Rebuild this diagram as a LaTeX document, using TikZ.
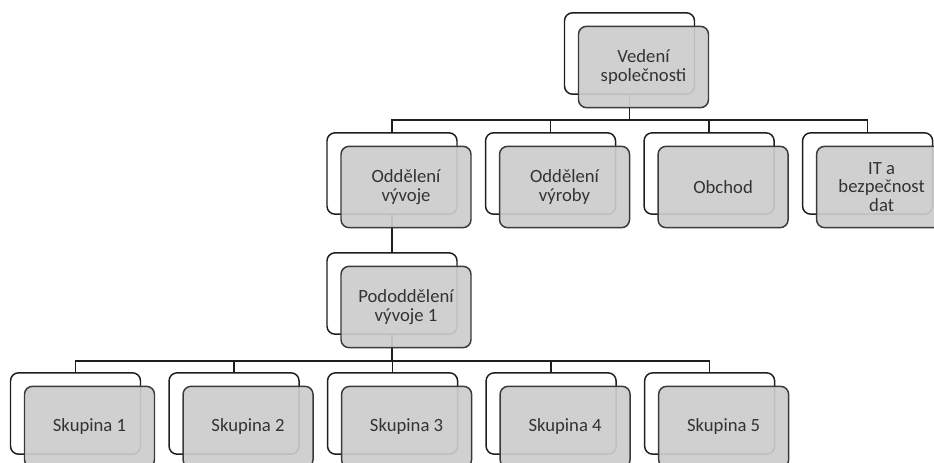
\documentclass[tikz,border=0pt]{standalone}
\usepackage{fontspec}
\setmainfont{Carlito}
\usepackage{tikz}
\usetikzlibrary{positioning,calc,backgrounds}
\definecolor{orgline}{HTML}{1E1E1E}
\definecolor{orgedge}{HTML}{3A3A3A}
\definecolor{orgfill}{HTML}{CCCCCC}
\definecolor{orgtext}{HTML}{333333}
\tikzset{
  link/.style={draw=orgline, line width=1.1pt},
  backbox/.style={draw=orgline, rounded corners=6pt, line width=1.1pt, fill=white,
    minimum width=97.5pt, minimum height=61pt, inner sep=0pt},
  frontbox/.style={draw=orgedge, rounded corners=6pt, line width=1.1pt, fill=orgfill,
    fill opacity=0.92, text opacity=1, text=orgtext, align=center, inner sep=2pt,
    minimum width=97.5pt, minimum height=61pt, font=\fontsize{14}{13.7}\selectfont}
}

\begin{document}
\begin{tikzpicture}[x=0.75pt, y=-0.75pt, node distance=7mm and 20.3pt]
    \useasboundingbox (0,0) rectangle (934,463);
    \clip (0,0) rectangle (934,463);

    % vedeni
    \node[backbox] (vedeniB) at (629.5,53.5) {};
    \node[frontbox] (vedeni) at ($(vedeniB)+(14,13.5)$) {Vedení\\společnosti};

    % oddeleni
    \node[backbox] (vyvojB) at (392,173.5) {};
    \node[frontbox] (vyvoj) at ($(vyvojB)+(14,13.5)$) {Oddělení\\vývoje};
    \node[backbox, right=of vyvojB] (vyrobaB) {};
    \node[frontbox] (vyroba) at ($(vyrobaB)+(14,13.5)$) {Oddělení\\výroby};
    \node[backbox, right=of vyrobaB] (obchodB) {};
    \node[frontbox] (obchod) at ($(obchodB)+(14,13.5)$) {Obchod};
    \node[backbox, right=of obchodB] (itB) {};
    \node[frontbox] (it) at ($(itB)+(14,13.5)$) {IT a\\bezpečnost\\dat};

    % pododdeleni
    \node[backbox] (podB) at (392,293.5) {};
    \node[frontbox] (pod) at ($(podB)+(14,13.5)$) {Pododdělení\\vývoje 1};

    % skupiny
    \node[backbox] (sk1B) at (75.5,413.5) {};
    \node[frontbox] (sk1) at ($(sk1B)+(14,13.5)$) {Skupina 1};
    \node[backbox, right=of sk1B] (sk2B) {};
    \node[frontbox] (sk2) at ($(sk2B)+(14,13.5)$) {Skupina 2};
    \node[backbox, right=of sk2B] (sk3B) {};
    \node[frontbox] (sk3) at ($(sk3B)+(14,13.5)$) {Skupina 3};
    \node[backbox, right=of sk3B] (sk4B) {};
    \node[frontbox] (sk4) at ($(sk4B)+(14,13.5)$) {Skupina 4};
    \node[backbox, right=of sk4B] (sk5B) {};
    \node[frontbox] (sk5) at ($(sk5B)+(14,13.5)$) {Skupina 5};

    \begin{scope}[on background layer]
        \draw[link] (vedeniB.south) -- ++(0,25) -| (vyvojB.north);
        \draw[link] (vedeniB.south) -- ++(0,25) -| (vyrobaB.north);
        \draw[link] (vedeniB.south) -- ++(0,25) -| (obchodB.north);
        \draw[link] (vedeniB.south) -- ++(0,25) -| (itB.north);
        \draw[link] (vyvojB.south) -- (podB.north);
        \draw[link] (podB.south) -- ++(0,26) -| (sk1B.north);
        \draw[link] (podB.south) -- ++(0,26) -| (sk2B.north);
        \draw[link] (podB.south) -- ++(0,26) -| (sk3B.north);
        \draw[link] (podB.south) -- ++(0,26) -| (sk4B.north);
        \draw[link] (podB.south) -- ++(0,26) -| (sk5B.north);
    \end{scope}
\end{tikzpicture}
\end{document}
